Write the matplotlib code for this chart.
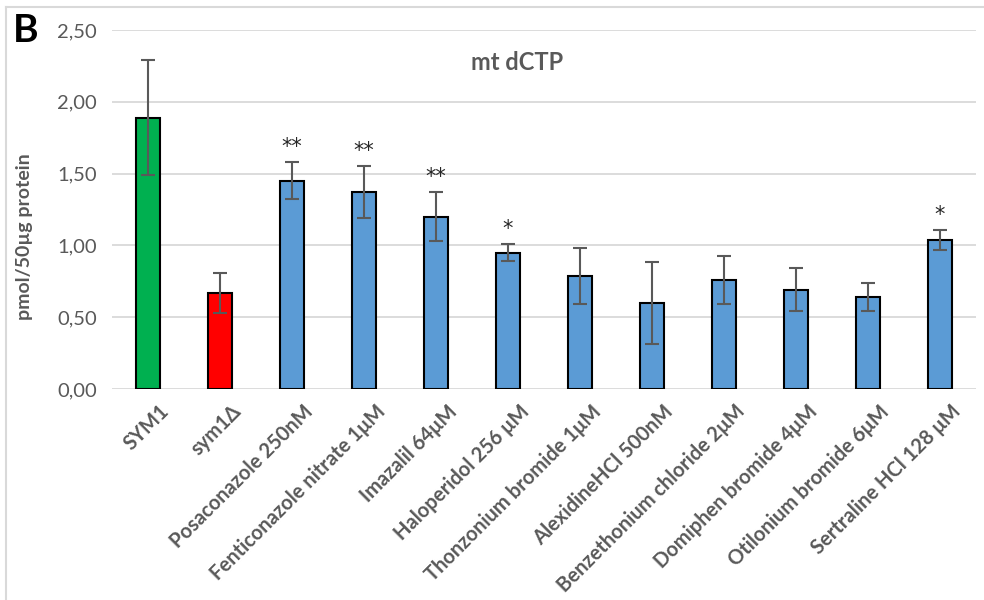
import matplotlib
matplotlib.use("Agg")
import matplotlib.pyplot as plt
from matplotlib.lines import Line2D
from matplotlib.transforms import ScaledTranslation

categories = ["SYM1", "sym1Δ", "Posaconazole 250nM", "Fenticonazole nitrate 1μM",
              "Imazalil 64μM", "Haloperidol 256 μM", "Thonzonium bromide 1μM",
              "AlexidineHCl 500nM", "Benzethonium chloride 2μM", "Domiphen bromide 4μM",
              "Otilonium bromide 6μM", "Sertraline HCl 128 μM"]
values = [1.89, 0.67, 1.45, 1.37, 1.20, 0.95, 0.79, 0.60, 0.76, 0.69, 0.64, 1.04]
errors = [0.40, 0.14, 0.13, 0.18, 0.17, 0.06, 0.195, 0.285, 0.165, 0.15, 0.10, 0.07]
stars = ["", "", "**", "**", "**", "*", "", "", "", "", "", "*"]
colors = ["#00B050", "#FF0000"] + ["#5B9BD5"] * 10
yticks = [0.0, 0.5, 1.0, 1.5, 2.0, 2.5]

plt.rcParams["font.family"] = ["Lato", "DejaVu Sans"]
gray = "#595959"

fig = plt.figure(figsize=(9.84, 6.0), dpi=100)
ax = fig.add_axes([112 / 984, 1 - 389 / 600, (976 - 112) / 984, (389 - 30) / 600])

x = list(range(len(categories)))
ax.bar(x, values, width=0.33, color=colors, edgecolor="black", linewidth=1.5, zorder=3)
ax.errorbar(x, values, yerr=errors, fmt="none", ecolor=gray, elinewidth=1.5,
            capsize=5, capthick=1.5, zorder=4)

for xi, v, e, s in zip(x, values, errors, stars):
    if s:
        ax.text(xi, v + e + 0.035, s, ha="center", va="bottom", fontsize=15,
                color="#262626", family="DejaVu Sans")

ax.set_xlim(-0.5, len(categories) - 0.5)
ax.set_ylim(0, 2.5)
ax.set_yticks(yticks)
ax.set_yticklabels([f"{t:.2f}".replace(".", ",") for t in yticks], fontsize=14.5, color=gray)
ax.yaxis.grid(True, color="#D9D9D9", linewidth=1.3, zorder=0)
ax.tick_params(axis="both", length=0)
ax.tick_params(axis="y", pad=11)
for sp in ax.spines.values():
    sp.set_visible(False)

ax.set_xticks(x)
ax.set_xticklabels(categories, rotation=45, ha="right", va="top",
                   rotation_mode="anchor", fontsize=14.5, fontweight="bold", color=gray)
ax.tick_params(axis="x", pad=9)
shift = ScaledTranslation(11 / 100, 0, fig.dpi_scale_trans)
for lbl in ax.get_xticklabels():
    lbl.set_transform(lbl.get_transform() + shift)

ax.set_ylabel("pmol/50µg protein", fontsize=14, fontweight="bold", color=gray)
ax.yaxis.set_label_coords((33 - 112) / 864, (389 - 237) / 359)

fig.text(517 / 984, 1 - 62 / 600, "mt dCTP", ha="center", va="center",
         fontsize=17, fontweight="bold", color=gray)
fig.text(26 / 984, 1 - 31 / 600, "B", ha="center", va="center",
         fontsize=28, fontweight="bold", color="black")

# chart frame (left and top edges)
fig.add_artist(Line2D([6 / 984, 6 / 984], [0, 1 - 7 / 600], color="#D9D9D9", linewidth=1.5))
fig.add_artist(Line2D([6 / 984, 1], [1 - 7 / 600, 1 - 7 / 600], color="#D9D9D9", linewidth=1.5))

fig.savefig("out.png", dpi=100, facecolor="white")
